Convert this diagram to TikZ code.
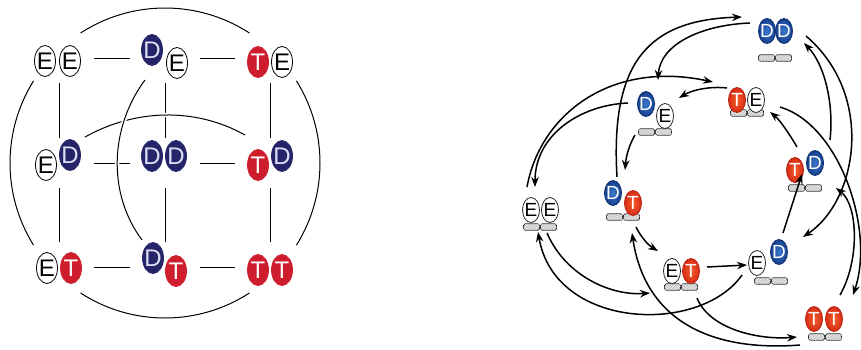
\documentclass[tikz,border=0pt]{standalone}
\usepackage{fontspec}
\newfontfamily\lettersans{Liberation Sans}
\usetikzlibrary{shapes.geometric,arrows.meta,calc,patterns}

\definecolor{navy}{RGB}{38,36,104}
\definecolor{lavender}{RGB}{222,222,245}
\definecolor{cardred}{RGB}{206,30,46}
\definecolor{blueIn}{RGB}{60,120,205}
\definecolor{blueOut}{RGB}{20,62,140}
\definecolor{redIn}{RGB}{245,95,45}
\definecolor{redOut}{RGB}{214,44,22}

\begin{document}
\begin{tikzpicture}[x=1pt,y=-1pt,
  hub/.style={rectangle,minimum width=70pt,minimum height=50pt,inner sep=0pt},
  link/.style={line width=1pt,black},
  halo/.style={line width=1pt,black,preaction={draw=white,line width=4.5pt}},
  bigletter/.style={ellipse,minimum width=21pt,minimum height=31pt,inner sep=-4pt,
    line width=0.8pt,font=\lettersans\fontsize{24}{24}\selectfont},
  lE/.style={bigletter,draw=black,fill=white,text=black},
  lD/.style={bigletter,draw=navy,fill=navy,text=lavender},
  lT/.style={bigletter,draw=cardred,fill=cardred,text=white},
  smallletter/.style={ellipse,minimum width=17pt,minimum height=25pt,inner sep=-4pt,
    line width=0.8pt,font=\lettersans\fontsize{19}{19}\selectfont},
  sE/.style={smallletter,draw=black!85,fill=white,text=black},
  sD/.style={smallletter,draw=blueOut!80!black,inner color=blueIn,outer color=blueOut,text=white},
  sT/.style={smallletter,draw=redOut!85!black,inner color=redIn,outer color=redOut,text=white},
  bar/.style={rectangle,rounded corners=1.5pt,minimum width=16pt,minimum height=6.5pt,
    inner sep=0pt,draw=gray!35!black,line width=0.7pt,fill=gray!18,
    postaction={pattern=north east lines,pattern color=gray!60}},
  arr/.style={line width=1.5pt,black,-{Stealth[length=10pt,width=7.5pt]}}
]
\fill[white] (0,0) rectangle (861,349);
\useasboundingbox (0,0) rectangle (861,349);

% ---------- left: grid of pair states ----------
\node[hub] (EE) at (59,58) {};
\node[hub] (DE) at (165,58) {};
\node[hub] (TE) at (270,58) {};
\node[hub] (ED) at (59,163) {};
\node[hub] (DD) at (165,163) {};
\node[hub] (TD) at (270,163) {};
\node[hub] (ET) at (59,267) {};
\node[hub] (DT) at (165,267) {};
\node[hub] (TT) at (270,267) {};

% straight grid links
\draw[link] (EE) -- (DE);
\draw[link] (DE) -- (TE);
\draw[link] (ED) -- (DD);
\draw[link] (DD) -- (TD);
\draw[link] (ET) -- (DT);
\draw[link] (DT) -- (TT);
\draw[link] (EE) -- (ED);
\draw[link] (ED) -- (ET);
\draw[link] (DE) -- (DD);
\draw[link] (DD) -- (DT);
\draw[link] (TE) -- (TD);
\draw[link] (TD) -- (TT);

% outer ring around the grid
\draw[link] ([shift={(123:155pt)}]DD.center) arc[start angle=123,end angle=57,radius=155pt];
\draw[link] ([shift={(148:155pt)}]DD.center) arc[start angle=148,end angle=212,radius=155pt];
\draw[link] ([shift={(32:155pt)}]DD.center) arc[start angle=32,end angle=-32,radius=155pt];
\draw[link] ([shift={(237:155pt)}]DD.center) arc[start angle=237,end angle=303,radius=155pt];

% inner arcs
\draw[halo] ($(ED)+(26,-26)$) .. controls +(50,-28) and +(-50,-28) .. ($(TD)+(-25,-28)$);
\draw[halo] ($(DE)+(-20,22)$) .. controls +(-35,47) and +(-35,-47) .. ($(DT)+(-23,-27)$);

% letters
\node[lE] (EEa) at (45,61) {E};
\node[lE] (EEb) at (70,61) {E};
\node[lD] (DEa) at (152,50) {D};
\node[lE] (DEb) at (177,63) {E};
\node[lT] (TEa) at (258,62) {T};
\node[lE] (TEb) at (282,62) {E};
\node[lE] (EDa) at (46,165) {E};
\node[lD] (EDb) at (70,155) {D};
\node[lD] (DDa) at (152,156) {D};
\node[lD] (DDb) at (176,156) {D};
\node[lT] (TDa) at (258,165) {T};
\node[lD] (TDb) at (282,156) {D};
\node[lE] (ETa) at (47,268) {E};
\node[lT] (ETb) at (71,268) {T};
\node[lD] (DTa) at (153,258) {D};
\node[lT] (DTb) at (176,271) {T};
\node[lT] (TTa) at (258,270) {T};
\node[lT] (TTb) at (282,270) {T};

% ---------- right: transition network ----------
\coordinate (rDD) at (775,58);
\coordinate (rTE) at (747,113);
\coordinate (rDE) at (655,132);
\coordinate (rTD) at (805,188);
\coordinate (rDT) at (623,217);
\coordinate (rEE) at (540,227);
\coordinate (rET) at (681,287);
\coordinate (rED) at (771,281);
\coordinate (rTT) at (825,337);

% binding sites under each pair
\foreach \s in {rDD,rTE,rDE,rTD,rDT,rEE,rET,rED,rTT}{
  \node[bar] (\s-b1) at ($(\s)+(-8.5,0)$) {};
  \node[bar] (\s-b2) at ($(\s)+(8.5,0)$) {};
}

\node[sD] (rDDa) at (767,31) {D};
\node[sD] (rDDb) at (784,31) {D};
\node[sT] (rTEa) at (737,100) {T};
\node[sE] (rTEb) at (756,100) {E};
\node[sD] (rDEa) at (646,104) {D};
\node[sE] (rDEb) at (665,116) {E};
\node[sT] (rTDa) at (795,170) {T};
\node[sD] (rTDb) at (815,163) {D};
\node[sD] (rDTa) at (613,193) {D};
\node[sT] (rDTb) at (633,203) {T};
\node[sE] (rEEa) at (531,210) {E};
\node[sE] (rEEb) at (550,210) {E};
\node[sE] (rETa) at (672,271) {E};
\node[sT] (rETb) at (691,271) {T};
\node[sE] (rEDa) at (757,263) {E};
\node[sD] (rEDb) at (779,252) {D};
\node[sT] (rTTa) at (814,319) {T};
\node[sT] (rTTb) at (834,319) {T};

% inner cycle
\draw[arr] ($(rTE)+(-20,-25)$) .. controls (710,86) and (692,90) .. ($(rDE)+(24,-34)$);
\draw[arr] ($(rDE)+(-20,3)$) .. controls (629,145) and (626,157) .. ($(rDT)+(2,-47)$);
\draw[arr] ($(rDT)+(13,10)$) .. controls (641,237) and (648,245) .. ($(rET)+(-23,-36)$);
\draw[arr] ($(rET)+(26,-20)$) -- ($(rED)+(-24,-16)$);
\draw[arr] ($(rED)+(12,-48)$) -- ($(rTD)+(-3,-14)$);
\draw[arr] ($(rTD)+(-8,-41)$) .. controls (790,135) and (780,120) .. ($(rTE)+(23,-1)$);

% outer transitions
\draw[arr] ($(rDT)+(-6,-40)$) .. controls (610,60) and (650,20) .. ($(rDD)+(-33,-41)$);
\draw[arr] ($(rDD)+(-25,-35)$) .. controls (700,25) and (660,45) .. ($(rDE)+(3,-52)$);
\draw[arr] ($(rEE)+(-13,-40)$) .. controls (540,115) and (610,60) .. ($(rTE)+(-34,-31)$);
\draw[arr] ($(rDE)+(-27,-29)$) .. controls (580,105) and (535,135) .. ($(rEE)+(-5,-40)$);
\draw[arr] ($(rEE)+(7,6)$) .. controls (565,275) and (610,296) .. ($(rET)+(-31,6)$);
\draw[arr] ($(rED)+(-29,-6)$) .. controls (700,335) and (555,330) .. ($(rEE)+(-2,5)$);
\draw[arr] ($(rET)+(16,11)$) .. controls (710,330) and (760,340) .. ($(rTT)+(-28,0)$);
\draw[arr] ($(rTT)+(-25,8)$) .. controls (710,352) and (645,320) .. ($(rDT)+(9,16)$);
\draw[arr] ($(rTE)+(33,-6)$) .. controls (840,125) and (875,230) .. ($(rTT)+(28,-42)$);
\draw[arr] ($(rTT)+(15,-42)$) .. controls (860,260) and (858,205) .. ($(rTD)+(31,0)$);
\draw[arr] ($(rDD)+(31,-22)$) .. controls (875,95) and (858,200) .. ($(rED)+(32,-44)$);
\draw[arr] ($(rTD)+(25,-48)$) .. controls (834,105) and (825,65) .. ($(rDD)+(29,-15)$);
\end{tikzpicture}
\end{document}
